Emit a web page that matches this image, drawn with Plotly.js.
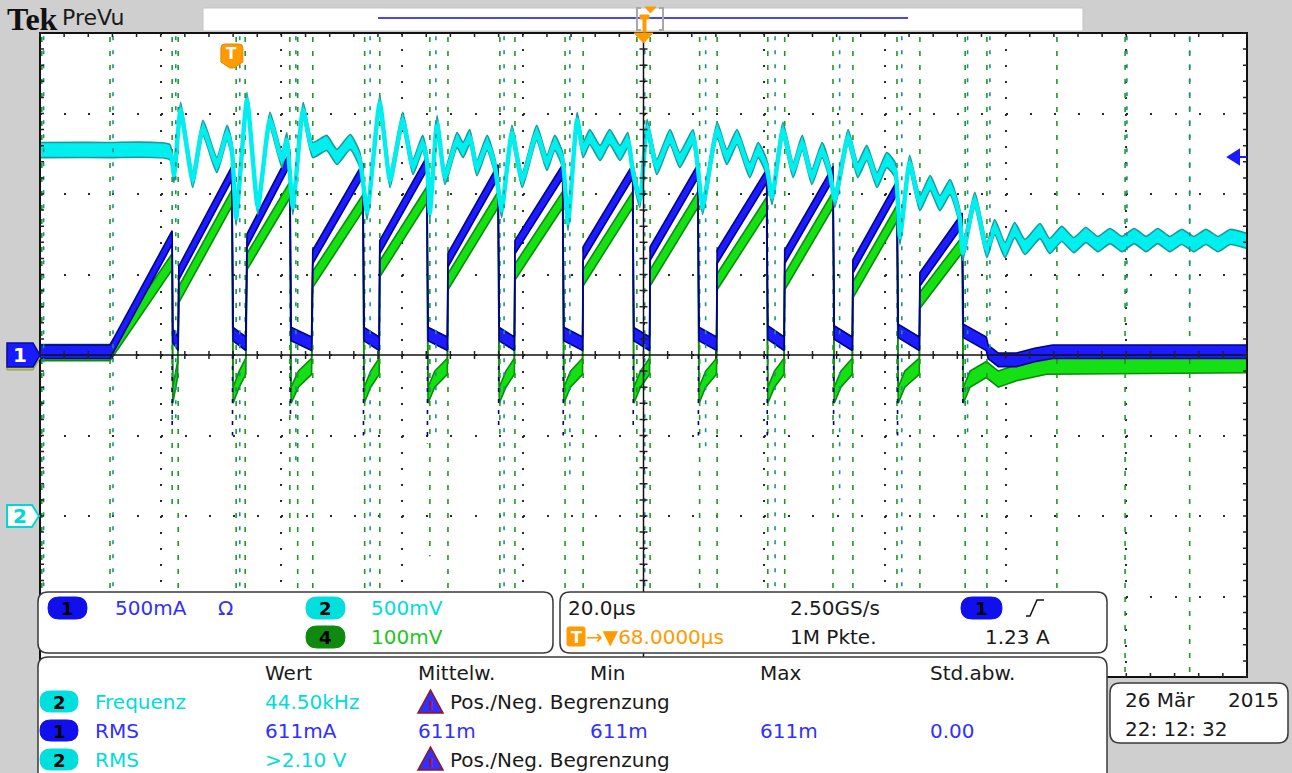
<!DOCTYPE html>
<html><head><meta charset="utf-8">
<script src="https://cdn.plot.ly/plotly-3.0.1.min.js"></script>
<style>html,body{margin:0;padding:0;background:#cfcfcf;}#chart{width:1292px;height:773px;}</style>
</head><body><div id="chart"></div>
<script>
// ================= DATA =================
// time axis: microseconds relative to trigger (20 µs/div, horizontal position 68 µs)
const timeRange = [-31.8, 168.2];
// Channel 1 (current, A) – blue
const ch1T = [-31.8,-20.2,-9.9,-9.8,-8.9,-8.8,0.0,0.2,2.3,2.5,9.6,9.8,13.2,13.4,21.7,21.9,24.4,24.5,32.3,32.5,35.7,35.8,44.1,44.3,46.8,46.9,54.8,55.0,58.1,58.2,66.4,66.6,69.2,69.3,77.2,77.4,80.3,80.4,88.6,88.8,91.5,91.6,99.6,99.8,102.8,102.9,110.2,110.4,113.9,114.0,121.0,121.2,125.0,125.3,127.0,130.0,133.0,136.0,168.2];
const ch1A = [0.02,0.02,0.73,0.12,0.07,0.51,1.13,0.13,0.07,0.71,1.22,0.13,0.07,0.61,1.15,0.13,0.07,0.67,1.19,0.13,0.07,0.59,1.14,0.13,0.07,0.67,1.14,0.13,0.07,0.63,1.14,0.13,0.07,0.63,1.14,0.13,0.07,0.61,1.11,0.14,0.07,0.61,1.13,0.14,0.07,0.55,1.04,0.15,0.07,0.47,0.84,0.15,0.07,0.02,-0.03,-0.03,0.0,0.02,0.02];
// Channel 4 (mV) – green
const ch4T = [-31.8,-20.2,-9.9,-9.8,-9.0,-8.8,0.0,0.2,1.2,2.3,2.5,9.6,9.8,11.0,13.2,13.4,21.7,21.9,23.0,24.4,24.5,32.3,32.5,33.6,35.7,35.8,44.1,44.3,45.4,46.8,46.9,54.8,55.0,56.1,58.1,58.2,66.4,66.6,67.7,69.2,69.3,77.2,77.4,78.5,80.3,80.4,88.6,88.8,89.9,91.5,91.6,99.6,99.8,100.9,102.8,102.9,110.2,110.4,111.5,113.9,114.0,121.0,121.2,122.3,125.0,127.0,130.0,135.0,168.2];
const ch4mV = [3,3,116,-50,-18,75,195,-50,-30,-14,116,205,-50,-30,-14,94,189,-50,-30,-14,107,199,-50,-30,-14,91,193,-50,-30,-14,103,193,-50,-30,-14,96,193,-50,-30,-14,96,193,-50,-30,-14,91,186,-50,-30,-14,91,193,-50,-30,-14,81,176,-50,-30,-14,68,137,-50,-30,-18,-30,-22,-14,-12];
// Channel 2 (V) – cyan
const ch2T = [-31.8,-20.5,-10.3,-9.6,-8.5,-6.5,-4.8,-2.5,-0.8,0.0,0.7,2.5,4.3,6.3,8.3,9.1,10.1,11.8,13.4,15.7,17.4,19.6,21.2,22.4,24.5,26.2,28.3,30.0,31.6,32.3,32.8,34.0,35.3,37.3,38.3,39.4,40.6,42.3,43.6,44.7,46.4,48.1,50.5,52.2,53.5,54.8,55.7,57.2,58.2,59.3,61.0,62.6,64.3,65.6,66.4,67.6,68.8,70.4,72.6,74.2,76.4,77.2,78.0,80.4,82.0,83.7,85.8,87.2,88.6,89.5,91.3,93.0,94.5,96.1,97.8,99.1,99.9,102.1,103.7,105.2,106.9,108.5,109.9,110.7,112.3,114.0,115.7,117.3,119.0,120.6,121.1,123.1,125.1,126.4,128.1,129.7,131.4,133.9,135.5,137.5,139.5,141.5,143.5,145.5,147.5,149.5,151.5,153.4,155.4,157.4,159.4,161.4,163.4,165.4,168.2];
const ch2V = [2.273,2.273,2.261,2.118,2.522,2.087,2.410,2.180,2.379,2.273,1.851,2.584,1.919,2.460,2.211,2.335,1.919,2.522,2.273,2.317,2.230,2.323,2.211,1.888,2.565,2.087,2.460,2.168,2.317,2.211,1.882,2.441,2.106,2.335,2.273,2.354,2.161,2.317,2.168,1.901,2.379,2.087,2.379,2.193,2.317,2.211,1.820,2.460,2.273,2.354,2.255,2.354,2.255,2.335,2.149,1.963,2.416,2.168,2.354,2.211,2.354,2.168,1.919,2.398,2.230,2.354,2.149,2.273,2.168,1.981,2.398,2.149,2.317,2.106,2.273,2.130,1.963,2.354,2.149,2.255,2.087,2.211,2.149,1.733,2.193,1.944,2.068,1.944,2.043,1.857,1.634,1.963,1.652,1.795,1.652,1.776,1.671,1.770,1.677,1.752,1.683,1.745,1.689,1.739,1.689,1.739,1.689,1.739,1.689,1.733,1.689,1.733,1.689,1.733,1.708];
// sparse glitch spikes (dotted verticals)
const greenSpikeT = [-31.5,-20.2,-9.9,-8.9,0.7,2.2,9.6,10.9,13.4,22.0,24.5,32.8,35.8,44.4,46.9,55.2,58.2,67.1,69.3,77.5,80.4,88.8,91.6,99.6,102.9,110.2,114.0,121.5,125.1,136.7,148.0,158.7];
const greenSpikeTop = [395,395,395,395,395,395,395,395,395,395,395,395,395,395,395,395,395,395,395,395,395,395,395,395,395,395,395,395,395,395,395,395];
const greenSpikeBot = [-300,-300,-190,-300,-300,-300,-230,-300,-300,-300,-300,-250,-300,-300,-300,-300,-300,-300,-300,-300,-300,-300,-300,-300,-300,-300,-300,-300,-300,-300,-400,-400];
const tealSpikeT = [-31.2,-19.7,-9.3,1.3,10.6,22.9,33.8,45.1,56.0,68.4,78.5,90.0,100.7,111.0,121.9,125.6,148.3,158.7];
const tealSpikeTop = [2.98,2.98,2.98,2.98,2.98,2.98,2.98,2.98,2.98,2.98,2.98,2.98,2.98,2.98,2.98,2.98,2.98,2.98];
const tealSpikeBot = [-0.5,-0.5,0.6,-0.5,0.3,-0.5,0.5,-0.5,0.2,-0.5,0.4,-0.5,0.1,-0.5,0.5,1.0,1.3,1.2];
const navySpikeT = [-9.9,0.1,9.7,21.8,32.4,44.2,54.9,66.5,77.3,88.7,99.7,110.3,121.1];
const navySpikeBot = [-0.45,-0.5,-0.4,-0.5,-0.55,-0.45,-0.5,-0.45,-0.5,-0.5,-0.45,-0.5,-0.3];
const trigLevelA = 1.23;
// readout texts
const chScaleTexts = ["500mA","500mV","100mV"];
const headerCols = ["Wert","Mittelw.","Min","Max","Std.abw."];
const measNames = ["Frequenz","RMS","RMS"];
const measValues = ["44.50kHz","611mA",">2.10 V"];
const rms1Stats = ["611m","611m","611m","0.00"];

// ================= helpers =================
const L=40,R=1247,T=33,B=677;
const X = px => (px-L)/(R-L);
const Y = py => (B-py)/(B-T);
const P = (x,y) => X(x).toFixed(5)+','+Y(y).toFixed(5);
const FONT = 'DejaVu Sans';

function band(t, v, d, axis, edge, fill, shape){
  const ln = {color:edge,width:1.6,shape:shape||'linear',smoothing:0.5};
  return [
    {x:t, y:v.map(a=>a-d), yaxis:axis, mode:'lines', line:ln, hoverinfo:'skip'},
    {x:t, y:v.map(a=>a+d), yaxis:axis, mode:'lines', line:ln, fill:'tonexty', fillcolor:fill, hoverinfo:'skip'}
  ];
}
function spikes(ts, tops, bots, axis, color, dash, w){
  const x=[],y=[];
  ts.forEach((t,i)=>{x.push(t,t,null);y.push(tops[i],bots[i],null);});
  return {x,y,yaxis:axis,mode:'lines',line:{color,width:w||1.6,dash},hoverinfo:'skip',connectgaps:false};
}
function rr(x0,y0,x1,y1,r){
  return `M${P(x0+r,y0)} L${P(x1-r,y0)} Q${P(x1,y0)} ${P(x1,y0+r)} L${P(x1,y1-r)} Q${P(x1,y1)} ${P(x1-r,y1)} L${P(x0+r,y1)} Q${P(x0,y1)} ${P(x0,y1-r)} L${P(x0,y0+r)} Q${P(x0,y0)} ${P(x0+r,y0)} Z`;
}
function poly(pts){ return 'M'+pts.map(p=>P(p[0],p[1])).join(' L')+' Z'; }
function pshape(path, fill, line, lw){ return {type:'path',xref:'paper',yref:'paper',path,fillcolor:fill||'rgba(0,0,0,0)',line:{color:line||'rgba(0,0,0,0)',width:lw||0},layer:'above'}; }
function txt(s, px, py, color, size, anchor, bold){
  return {text: bold?'<b>'+s+'</b>':s, x:X(px), y:Y(py), xref:'paper', yref:'paper', xanchor:anchor||'left', yanchor:'middle', showarrow:false, font:{family:FONT,size:size||20,color:color||'#1a1a1a'}};
}

// ================= traces =================
// axis y = ch4 (base), y2 = ch1, y3 = ch2 (drawn on top in that order)
const traces = [
  ...band(ch4T, ch4mV, 10, 'y', '#0b8c0b', '#14e014'),
  spikes(greenSpikeT, greenSpikeTop, greenSpikeBot, 'y', '#1f9a1f', '5px,9px', 1.6),
  ...band(ch1T, ch1A, 0.042, 'y2', '#00008c', '#1c1cff'),
  spikes(navySpikeT, navySpikeT.map(()=>0), navySpikeBot, 'y2', '#000080', '4px,7px', 1.6),
  ...band(ch2T, ch2V, 0.047, 'y3', '#179c9c', '#00f0f0', 'spline'),
  {x:ch2T, y:ch2V, yaxis:'y3', mode:'lines', line:{color:'#00eeee', width:4.5, shape:'spline', smoothing:0.5}, hoverinfo:'skip'},
  spikes(tealSpikeT, tealSpikeTop, tealSpikeBot, 'y3', '#1a8f8f', '4px,10px', 1.6)
];

// ================= shapes =================
const shapes = [];
shapes.push({type:'rect',xref:'paper',yref:'paper',x0:0,x1:1,y0:0,y1:1,line:{color:'#111',width:2},layer:'above'});
shapes.push({type:'line',xref:'paper',yref:'paper',x0:0,x1:1,y0:0.5,y1:0.5,line:{color:'#111',width:1.5},layer:'above'});
shapes.push({type:'line',xref:'paper',yref:'paper',x0:0.5,x1:0.5,y0:0,y1:1,line:{color:'#111',width:1.5},layer:'above'});
(function(){
  const segs=[]; const cx=(L+R)/2, cy=(T+B)/2;
  for(let i=0;i<=50;i++){const x=L+i*(R-L)/50; segs.push([x,T,x,T+4],[x,B-4,x,B],[x,cy-4,x,cy+4]);}
  for(let j=0;j<=40;j++){const y=T+j*(B-T)/40; segs.push([L,y,L+4,y],[R-4,y,R,y],[cx-4,y,cx+4,y]);}
  shapes.push(pshape(segs.map(s=>`M${P(s[0],s[1])} L${P(s[2],s[3])}`).join(' '), null, '#222', 1.5));
})();
// header
shapes.push({type:'rect',xref:'paper',yref:'paper',x0:X(203),x1:X(1083),y0:Y(31),y1:Y(8),fillcolor:'#fff',line:{color:'#c4c4c4',width:1},layer:'above'});
shapes.push({type:'line',xref:'paper',yref:'paper',x0:X(378),x1:X(908),y0:Y(18),y1:Y(18),line:{color:'#4646ff',width:2},layer:'above'});
shapes.push(pshape(`M${P(641,8)} L${P(637,8)} L${P(637,30)} L${P(641,30)} M${P(659,8)} L${P(663,8)} L${P(663,30)} L${P(659,30)}`, null, '#a8a8a8', 2));
shapes.push(pshape(poly([[640,15],[649,15],[649,19],[646,19],[646,32],[643,32],[643,19],[640,19]]), '#ff9a00', '#ff9a00', 1));
shapes.push(pshape(poly([[645,7],[656,7],[650.5,13]]), '#ff9a00', '#ff9a00', 1));
shapes.push(pshape(poly([[634,33],[653,33],[643.5,43]]), '#ff9a00', '#ff9a00', 1));
// trigger T marker at t = 0
shapes.push({type:'path',xref:'x',yref:'paper',xsizemode:'pixel',ysizemode:'pixel',xanchor:0,yanchor:1,
  path:'M-11,-15 Q-11,-11 -7,-11 L7,-11 Q11,-11 11,-15 L11,-29 L2,-35 L-2,-35 L-11,-29 Z',
  fillcolor:'#ff9a00',line:{color:'#e08800',width:1},layer:'above'});
// trigger level arrow (right edge)
shapes.push({type:'path',xref:'paper',yref:'y2',xsizemode:'pixel',ysizemode:'pixel',xanchor:1,yanchor:trigLevelA,
  path:'M-19,0 L-8,7 L-8,-7 Z M-8,0 L0,0',fillcolor:'#1a1aff',line:{color:'#1a1aff',width:2},layer:'above'});
// channel markers on the left
shapes.push(pshape(poly([[7,347],[33,347],[40,358],[33,370],[7,370]]), '#b8c860', '#8aa040', 1));
shapes.push(pshape(poly([[7,343],[33,343],[40,355],[33,367],[7,367]]), '#1a1aff', '#0c0c9a', 1.5));
shapes.push(pshape(poly([[7,505],[32,505],[39,516],[32,527],[7,527]]), '#ffffff', '#00d8d8', 2));
// readout boxes
shapes.push(pshape(rr(38,592,553,653,10), '#fff', '#3a3a3a', 1.5));
shapes.push(pshape(rr(560,592,1107,653,10), '#fff', '#3a3a3a', 1.5));
shapes.push(pshape(rr(38,657,1107,790,10), '#fff', '#3a3a3a', 1.5));
shapes.push(pshape(rr(1110,683,1288,743,10), '#fff', '#3a3a3a', 1.5));
const pills = [
  [48,597,87,619,'#1010ee'],[306,597,345,619,'#00dede'],[306,626,345,648,'#0f8a0f'],
  [961,597,1002,619,'#1010ee'],
  [40,691,78,712,'#00dede'],[40,720,78,741,'#1010ee'],[40,749,78,770,'#00dede']
];
pills.forEach(p=>shapes.push(pshape(rr(p[0],p[1],p[2],p[3],(p[3]-p[1])/2), p[4], p[4], 1)));
shapes.push(pshape(rr(567,627,585,646,2), '#ff9a00', '#ff9a00', 1));
shapes.push(pshape(`M${P(1026,616)} L${P(1030,616)} L${P(1037,600)} L${P(1044,600)}`, null, '#111', 1.5));
[702,759].forEach(c=>{
  shapes.push(pshape(poly([[418,c+11],[443,c+11],[430.5,c-12]]), '#3030ff', '#9a1414', 1.5));
});

// ================= annotations =================
const ann = [];
ann.push({text:'<b>Tek</b>',x:X(5),y:Y(19),xref:'paper',yref:'paper',xanchor:'left',yanchor:'middle',showarrow:false,font:{family:'Liberation Serif',size:32,color:'#111'}});
ann.push(txt('PreVu', 60, 18, '#1a1a1a', 22));
ann.push({text:'<b>T</b>',x:0,y:Y(54),xref:'x',yref:'paper',xanchor:'center',yanchor:'middle',showarrow:false,font:{family:FONT,size:15,color:'#fff'}});
ann.push(txt('1', 20, 355, '#ffffff', 20, 'center', true));
ann.push(txt('2', 20, 516, '#00d8d8', 20, 'center', true));
ann.push(txt('1', 67.5, 608, '#000', 18, 'center', true));
ann.push(txt('2', 325.5, 608, '#000', 18, 'center', true));
ann.push(txt('4', 325.5, 637, '#000', 18, 'center', true));
ann.push(txt(chScaleTexts[0], 113, 608, '#3030ff'));
ann.push(txt('Ω', 216, 608, '#3030ff'));
ann.push(txt(chScaleTexts[1], 369, 608, '#00dcdc'));
ann.push(txt(chScaleTexts[2], 369, 637, '#1fc41f'));
ann.push(txt('20.0µs', 566, 608, '#1a1a1a'));
ann.push(txt('2.50GS/s', 788, 608, '#1a1a1a'));
ann.push(txt('1', 981.5, 608, '#000', 18, 'center', true));
ann.push(txt('T', 576, 637, '#fff', 16, 'center', true));
ann.push(txt('→▼68.0000µs', 584, 637, '#ff9a00'));
ann.push(txt('1M Pkte.', 788, 637, '#1a1a1a'));
ann.push(txt('1.23 A', 983, 637, '#1a1a1a'));
const colX = [263, 416, 588, 758, 928];
headerCols.forEach((h,i)=>ann.push(txt(h, colX[i], 673, '#1a1a1a')));
const rowY = [702, 731, 760];
const rowCol = ['#00dcdc','#3030ff','#00dcdc'];
const rowNum = ['2','1','2'];
rowY.forEach((y,i)=>{
  ann.push(txt(rowNum[i], 59, y, '#000', 18, 'center', true));
  ann.push(txt(measNames[i], 93, y, rowCol[i]));
  ann.push(txt(measValues[i], 263, y, rowCol[i]));
});
ann.push(txt('Pos./Neg. Begrenzung', 448, 702, '#1a1a1a'));
ann.push(txt('Pos./Neg. Begrenzung', 448, 760, '#1a1a1a'));
rms1Stats.forEach((s,i)=>ann.push(txt(s, colX[i+1], 731, '#3030ff')));
ann.push(txt('!', 430.5, 705, '#cc1010', 13, 'center', true));
ann.push(txt('!', 430.5, 762, '#cc1010', 13, 'center', true));
ann.push(txt('26 Mär', 1123, 700, '#1a1a1a'));
ann.push(txt('2015', 1281, 700, '#1a1a1a', 20, 'right'));
ann.push(txt('22: 12: 32', 1123, 729, '#1a1a1a'));

// ================= layout =================
const layout = {
  width:1292, height:773,
  margin:{l:L, r:1292-R, t:T, b:773-B, pad:0},
  paper_bgcolor:'#cfcfcf', plot_bgcolor:'#ffffff',
  showlegend:false, hovermode:false,
  xaxis:{range:timeRange, tick0:timeRange[0], dtick:20, showgrid:true, griddash:'2px,14.1px', gridcolor:'#2a2a2a', gridwidth:2,
         showticklabels:false, ticks:'', zeroline:false, showline:false, fixedrange:true},
  yaxis:{range:[-400,400], tick0:0, dtick:100, showgrid:true, griddash:'2px,22.14px', gridcolor:'#2a2a2a', gridwidth:2,
         showticklabels:false, ticks:'', zeroline:false, showline:false, fixedrange:true},
  yaxis2:{overlaying:'y', range:[-2,2], visible:false, fixedrange:true},
  yaxis3:{overlaying:'y', range:[-1,3], visible:false, fixedrange:true},
  shapes, annotations:ann
};
Plotly.newPlot('chart', traces, layout, {displayModeBar:false, staticPlot:true});
</script></body></html>
